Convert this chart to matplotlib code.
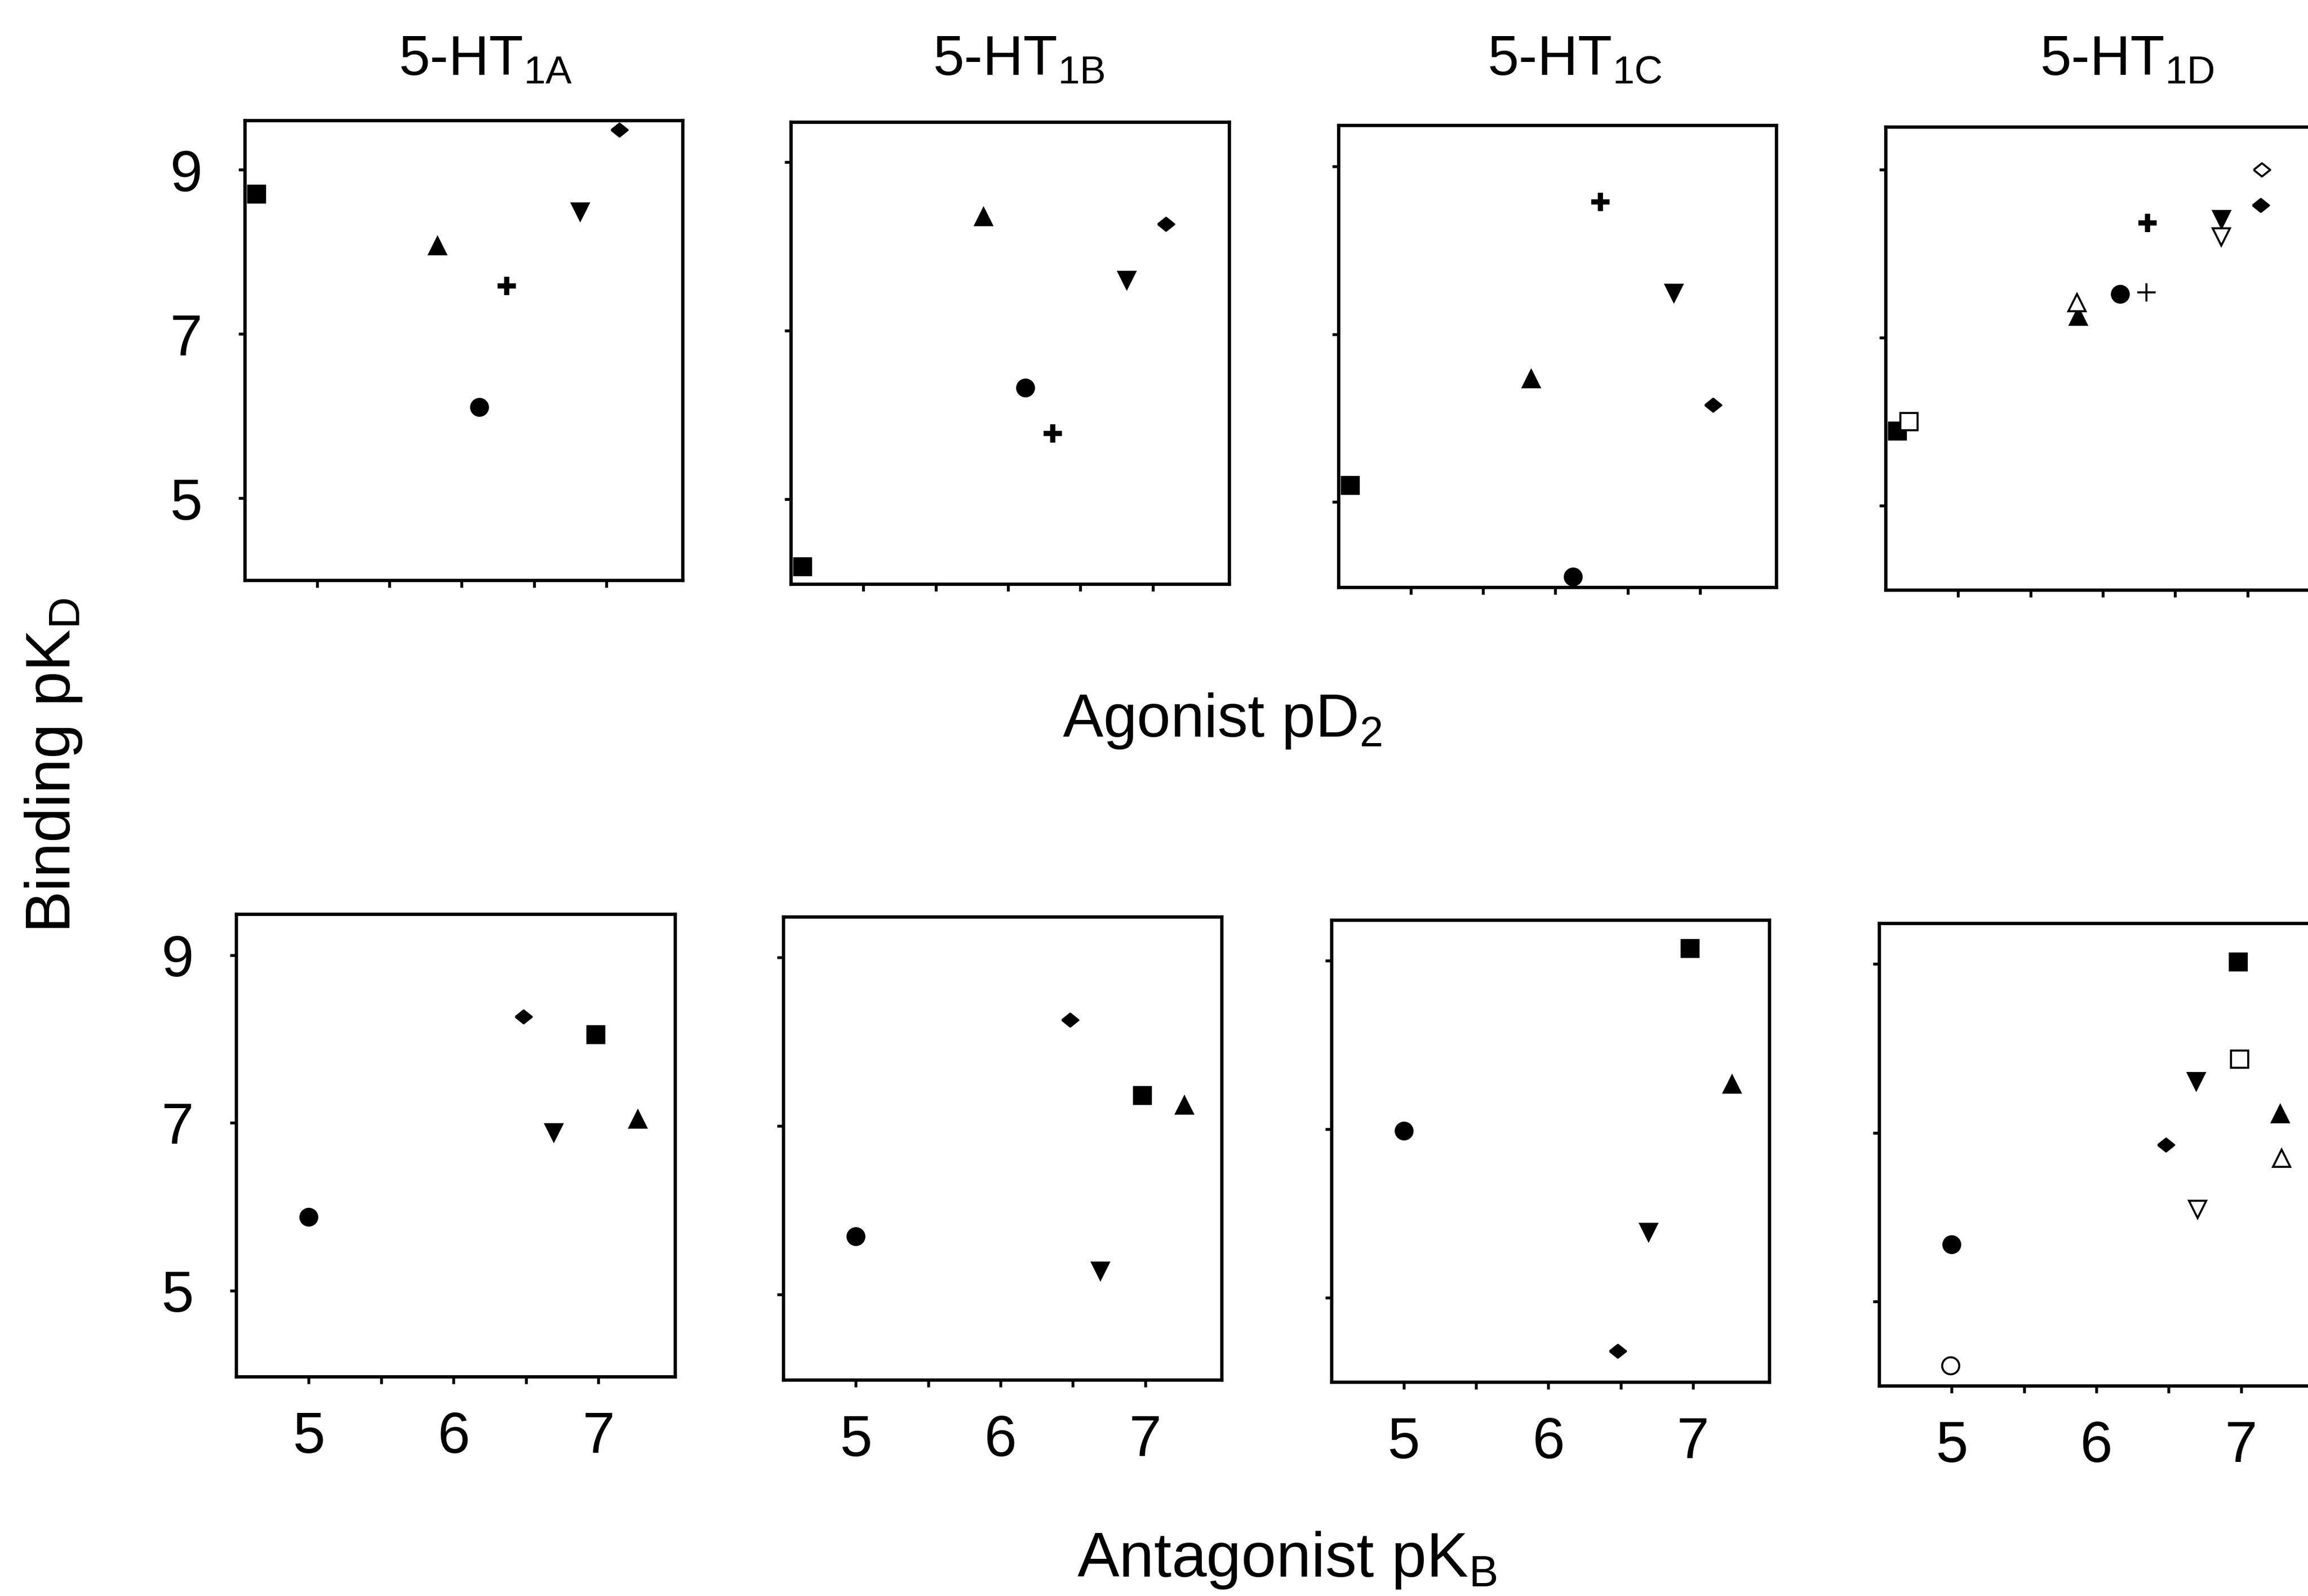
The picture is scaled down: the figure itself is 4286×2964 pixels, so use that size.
import matplotlib
matplotlib.use("Agg")
import matplotlib.pyplot as plt

plt.rcParams["font.family"] = ["Liberation Sans", "DejaVu Sans"]
plt.rcParams["mathtext.fontset"] = "custom"
plt.rcParams["mathtext.rm"] = "Liberation Sans"
plt.rcParams["mathtext.it"] = "Liberation Sans:italic"
plt.rcParams["mathtext.bf"] = "Liberation Sans:bold"

# ---------------- data ----------------
receptors = ["1A", "1B", "1C", "1D"]

# Agonists (top row): x = agonist pD2, y = binding pKD per receptor
agonist_markers = ["square", "up", "circle", "plus", "down", "diamond"]
agonist_pD2 = [4.58, 5.83, 6.12, 6.31, 6.82, 7.09]
agonist_pKD_1A = [8.71, 8.08, 6.11, 7.59, 8.49, 9.49]
agonist_pKD_1B = [4.20, 8.35, 6.32, 5.78, 7.60, 8.26]
agonist_pKD_1C = [5.20, 6.47, 4.11, 8.58, 7.49, 6.16]
agonist_pKD_1D = [5.89, 7.26, 7.52, 8.37, 8.41, 8.58]
# open symbols in 5-HT1D panel (second data set)
agonist_open_markers = ["square", "up", "plus", "down", "diamond"]
agonist_open_pD2 = [4.66, 5.82, 6.30, 6.82, 7.10]
agonist_open_pKD_1D = [6.00, 7.42, 7.54, 8.20, 9.00]

# Antagonists (bottom row): x = antagonist pKB, y = binding pKD per receptor
antagonist_markers = ["circle", "diamond", "down", "square", "up"]
antagonist_pKB = [5.00, 6.48, 6.69, 6.98, 7.27]
antagonist_pKD_1A = [5.88, 8.27, 6.89, 8.06, 7.05]
antagonist_pKD_1B = [5.69, 8.26, 5.28, 7.36, 7.25]
antagonist_pKD_1C = [6.98, 4.37, 5.78, 9.15, 7.54]
antagonist_pKD_1D = [5.68, 6.86, 7.61, 9.03, 7.23]
antagonist_open_markers = ["circle", "down", "square", "up"]
antagonist_open_pKB = [4.99, 6.70, 6.99, 7.28]
antagonist_open_pKD_1D = [4.24, 6.09, 7.87, 6.70]

x_ticks = [5, 5.5, 6, 6.5, 7]
x_ticklabels = ["5", "", "6", "", "7"]
y_ticks = [5, 7, 9]
y_ticklabels = ["5", "7", "9"]

# ---------------- layout ----------------
W, H, DPI = 4286, 2964, 300
fig = plt.figure(figsize=(W / DPI, H / DPI), dpi=DPI)
fig.patch.set_facecolor("white")

top_boxes = [(455, 224, 1268, 1078), (1469, 227, 2283, 1085),
             (2486, 233, 3299, 1091), (3502, 236, 4316, 1096)]
bottom_boxes = [(439, 1698, 1254, 2557), (1455, 1703, 2269, 2563),
                (2473, 1709, 3286, 2567), (3490, 1715, 4304, 2574)]
top_ylims = [(4.0, 9.6), (3.99, 9.47), (3.98, 9.49), (3.99, 9.51)]
bottom_ylims = [(3.97, 9.49), (3.98, 9.48), (4.0, 9.48), (4.0, 9.48)]
title_x = [902, 1892, 2924, 3950]

diamond_path = [(-1, 0), (0, 0.8), (1, 0), (0, -0.8), (-1, 0)]
styles = {
    "square": dict(marker="s", ms=7.8),
    "circle": dict(marker="o", ms=7.6),
    "up": dict(marker="^", ms=7.8),
    "down": dict(marker="v", ms=7.8),
    "diamond": dict(marker=diamond_path, ms=7.4),
    "plus": dict(marker="+", ms=8.0),
}


def add_ax(box):
    l, t, r, b = box
    return fig.add_axes([l / W, 1 - b / H, (r - l) / W, (b - t) / H])


def draw_points(ax, xs, ys, names, filled):
    for x, y, n in zip(xs, ys, names):
        st = dict(styles[n])
        if n == "plus":
            st.update(color="black", mew=2.3 if filled else 0.9)
        elif filled:
            st.update(mfc="black", mec="black", mew=0.8)
        else:
            st.update(mfc="white", mec="black", mew=0.9)
        ax.plot([x], [y], ls="none", clip_on=False, zorder=5, **st)


def style_ax(ax, ylim, show_xlabels, show_ylabels):
    ax.set_xlim(4.5, 7.53)
    ax.set_ylim(*ylim)
    for s in ax.spines.values():
        s.set_linewidth(1.5)
    ax.set_xticks(x_ticks)
    ax.set_yticks(y_ticks)
    ax.tick_params(direction="out", length=3, width=1.3, labelsize=26)
    ax.tick_params(axis="y", pad=16)
    ax.tick_params(axis="x", pad=12)
    if show_xlabels:
        ax.set_xticklabels(x_ticklabels)
    else:
        ax.set_xticklabels([])
    if show_ylabels:
        ax.set_yticklabels(y_ticklabels)
    else:
        ax.set_yticklabels([])


agonist_y = [agonist_pKD_1A, agonist_pKD_1B, agonist_pKD_1C, agonist_pKD_1D]
antagonist_y = [antagonist_pKD_1A, antagonist_pKD_1B, antagonist_pKD_1C, antagonist_pKD_1D]

for i, rec in enumerate(receptors):
    ax = add_ax(top_boxes[i])
    style_ax(ax, top_ylims[i], False, i == 0)
    draw_points(ax, agonist_pD2, agonist_y[i], agonist_markers, True)
    if rec == "1D":
        draw_points(ax, agonist_open_pD2, agonist_open_pKD_1D, agonist_open_markers, False)
    fig.text(title_x[i] / W, 1 - 139 / H, r"5-HT$_{\mathrm{%s}}$" % rec,
             ha="center", va="baseline", fontsize=25)

    ax2 = add_ax(bottom_boxes[i])
    style_ax(ax2, bottom_ylims[i], True, i == 0)
    draw_points(ax2, antagonist_pKB, antagonist_y[i], antagonist_markers, True)
    if rec == "1D":
        draw_points(ax2, antagonist_open_pKB, antagonist_open_pKD_1D, antagonist_open_markers, False)

fig.text(2270 / W, 1 - 1339 / H, r"Agonist pD$_{\mathrm{2}}$", ha="center", va="center", fontsize=27)
fig.text(2390 / W, 1 - 2897 / H, r"Antagonist pK$_{\mathrm{B}}$", ha="center", va="center", fontsize=28)
fig.text(100 / W, 1 - 1422 / H, r"Binding pK$_{\mathrm{D}}$", ha="center", va="center",
         rotation=90, fontsize=28)

fig.savefig("out.png", dpi=DPI, facecolor="white")
